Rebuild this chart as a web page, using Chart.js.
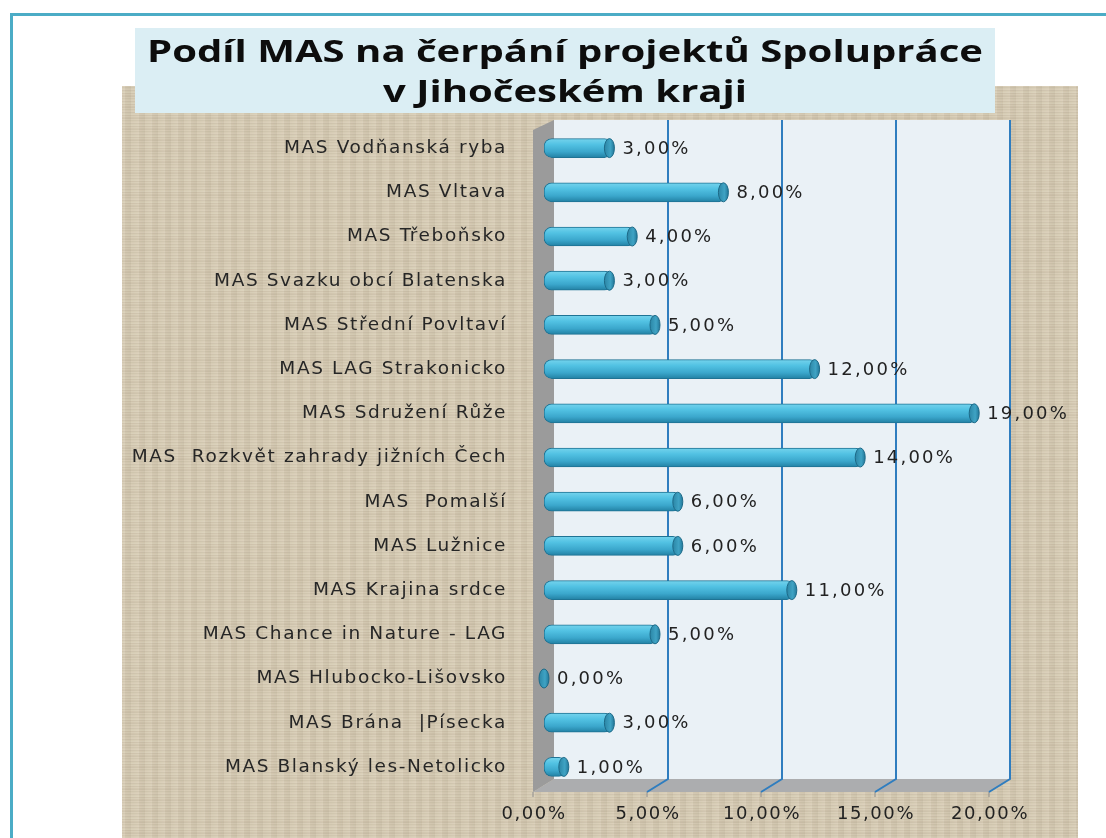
<!DOCTYPE html>
<html>
<head>
<meta charset="UTF-8">
<title>Podíl MAS na čerpání projektů Spolupráce</title>
<script src="https://cdn.jsdelivr.net/npm/chart.js"></script>
<style>
  html, body { margin: 0; padding: 0; background: #fff; }
  #wrap { width: 1106px; height: 838px; }
</style>
</head>
<body>
<div id="wrap"><canvas id="barChart" width="1106" height="838"></canvas></div>
<script>
// data
const titleLines = ['Podíl MAS na čerpání projektů Spolupráce', 'v Jihočeském kraji'];
const categories = [
  'MAS Vodňanská ryba',
  'MAS Vltava',
  'MAS Třeboňsko',
  'MAS Svazku obcí Blatenska',
  'MAS Střední Povltaví',
  'MAS LAG Strakonicko',
  'MAS Sdružení Růže',
  'MAS  Rozkvět zahrady jižních Čech',
  'MAS  Pomalší',
  'MAS Lužnice',
  'MAS Krajina srdce',
  'MAS Chance in Nature - LAG',
  'MAS Hlubocko-Lišovsko',
  'MAS Brána  |Písecka',
  'MAS Blanský les-Netolicko'
];
const shares = [3, 8, 4, 3, 5, 12, 19, 14, 6, 6, 11, 5, 0, 3, 1];   // v %
const axisMin = 0;
const axisMax = 20;
const axisStep = 5;

function fmtPct(v) {
  return Number(v).toFixed(2).replace('.', ',') + '%';
}

// pytlovina na pozadi
function makeBurlap() {
  const c = document.createElement('canvas');
  c.width = 66; c.height = 66;
  const g = c.getContext('2d');
  g.fillStyle = '#d6cbb4';
  g.fillRect(0, 0, 66, 66);
  for (let i = 0; i < 66; i++) {
    const a = ((i * 37) % 11) / 11;
    g.fillStyle = a > 0.5 ? 'rgba(110,95,70,' + (a * 0.09) + ')' : 'rgba(250,246,232,' + (a * 0.25) + ')';
    g.fillRect(0, i, 66, 1);
    const b = ((i * 53) % 13) / 13;
    g.fillStyle = b > 0.5 ? 'rgba(110,95,70,' + (b * 0.08) + ')' : 'rgba(250,246,232,' + (b * 0.2) + ')';
    g.fillRect(i, 0, 1, 66);
  }
  return c;
}

// obrazek je v originale roztazeny do sirky
function stretchedText(ctx, text, x, y, sx) {
  ctx.save();
  ctx.translate(x, y);
  ctx.scale(sx, 1);
  ctx.fillText(text, 0, 0);
  ctx.restore();
}

const FRONT = 11;   // posun predni hrany 3D
const BACK = 10;    // posun zadni steny
const BACK_Y = 10;

const backdrop = {
  id: 'backdrop',
  beforeDraw(chart) {
    const ctx = chart.ctx;
    const ca = chart.chartArea;
    const xs = chart.scales.x;
    ctx.save();
    ctx.fillStyle = '#ffffff';
    ctx.fillRect(0, 0, chart.width, chart.height);

    // ramecek
    ctx.fillStyle = '#4bacc6';
    ctx.fillRect(10, 13, chart.width - 10, 3);
    ctx.fillRect(10, 13, 3, chart.height - 13);

    // bezovy panel
    ctx.fillStyle = ctx.createPattern(makeBurlap(), 'repeat');
    ctx.fillRect(122, 86, 956, chart.height - 86);

    // titulek
    ctx.fillStyle = '#dbeef4';
    ctx.fillRect(135, 28, 860, 85);
    ctx.fillStyle = '#0d0d0d';
    ctx.font = 'bold 31px "Open Sans"';
    ctx.textAlign = 'center';
    ctx.textBaseline = 'alphabetic';
    const sx = 836 / ctx.measureText(titleLines[0]).width;
    stretchedText(ctx, titleLines[0], 565, 62, sx);
    stretchedText(ctx, titleLines[1], 565, 102, sx);

    const x0 = xs.getPixelForValue(axisMin);
    const x1 = xs.getPixelForValue(axisMax);
    const fy = ca.bottom + 3;          // predni hrana podlahy
    const by = ca.bottom - BACK_Y;     // zadni hrana podlahy
    const ty = ca.top - 6;             // horni hrana zadni steny

    // zadni stena
    ctx.fillStyle = '#eaf1f6';
    ctx.fillRect(x0 + BACK, ty, x1 - x0, by - ty);

    // leva stena
    ctx.fillStyle = '#9b9b9b';
    ctx.beginPath();
    ctx.moveTo(x0 - FRONT, ty + 10);
    ctx.lineTo(x0 + BACK, ty);
    ctx.lineTo(x0 + BACK, by);
    ctx.lineTo(x0 - FRONT, fy);
    ctx.closePath();
    ctx.fill();

    // podlaha
    ctx.fillStyle = '#acadaf';
    ctx.beginPath();
    ctx.moveTo(x0 - FRONT, fy);
    ctx.lineTo(x0 + BACK, by);
    ctx.lineTo(x1 + BACK, by);
    ctx.lineTo(x1 - FRONT, fy);
    ctx.closePath();
    ctx.fill();

    // mrizka a znacky
    for (let v = axisMin; v <= axisMax; v += axisStep) {
      const px = xs.getPixelForValue(v);
      ctx.strokeStyle = '#8c8c8c';
      ctx.lineWidth = 1;
      ctx.beginPath();
      ctx.moveTo(px - FRONT, fy);
      ctx.lineTo(px - FRONT, fy + 5);
      ctx.stroke();
      if (v === axisMin) continue;
      ctx.strokeStyle = '#2f7dbf';
      ctx.lineWidth = 2;
      ctx.beginPath();
      ctx.moveTo(px - FRONT, fy);
      ctx.lineTo(px + BACK, by);
      ctx.lineTo(px + BACK, ty);
      ctx.stroke();
    }
    ctx.restore();

    // roztazene pismo pro popisky os
    ctx.letterSpacing = '1.6px';
  },
  beforeDatasetsDraw(chart) {
    chart.ctx.letterSpacing = '0px';
  },
  afterDatasetsDraw(chart) {
    const ctx = chart.ctx;
    const meta = chart.getDatasetMeta(0);
    ctx.save();
    meta.data.forEach(function(bar, i) {
      const h = bar.height;
      const rx = 5;
      const cx = Math.max(bar.x - rx + 2, bar.base);
      // cepicka na konci valce
      const grd = ctx.createLinearGradient(cx - rx, 0, cx + rx, 0);
      grd.addColorStop(0, '#2b86a6');
      grd.addColorStop(0.6, '#3fa3c4');
      grd.addColorStop(1, '#23789a');
      ctx.fillStyle = grd;
      ctx.strokeStyle = '#1d6a88';
      ctx.lineWidth = 1;
      ctx.beginPath();
      ctx.ellipse(cx, bar.y, rx, h / 2, 0, 0, Math.PI * 2);
      ctx.fill();
      ctx.stroke();

      // hodnota
      ctx.letterSpacing = '2.2px';
      ctx.fillStyle = '#222';
      ctx.font = '18px "DejaVu Sans"';
      ctx.textAlign = 'left';
      ctx.textBaseline = 'middle';
      ctx.fillText(fmtPct(shares[i]), cx + rx + 8, bar.y + 1);
    });
    ctx.letterSpacing = '0px';
    ctx.restore();
  }
};

function barFill(context) {
  const chart = context.chart;
  const ys = chart.scales.y;
  if (!chart.chartArea || !ys) return '#45b4d8';
  const y = ys.getPixelForValue(context.dataIndex);
  const g = chart.ctx.createLinearGradient(0, y - 9, 0, y + 9);
  g.addColorStop(0, '#72d2ec');
  g.addColorStop(0.3, '#52c2e3');
  g.addColorStop(0.7, '#3ba7cc');
  g.addColorStop(1, '#2484a7');
  return g;
}

const ctx = document.getElementById('barChart').getContext('2d');
new Chart(ctx, {
  type: 'bar',
  data: {
    labels: categories,
    datasets: [{
      label: 'Podíl',
      data: shares,
      backgroundColor: barFill,
      borderColor: '#1f7394',
      borderWidth: 1,
      borderRadius: 8,
      borderSkipped: false,
      barThickness: 19
    }]
  },
  options: {
    indexAxis: 'y',
    responsive: false,
    animation: false,
    layout: { padding: { top: 126, right: 106, bottom: 0, left: 0 } },
    plugins: {
      legend: { display: false },
      tooltip: { enabled: false },
      title: { display: false }
    },
    scales: {
      x: {
        min: axisMin,
        max: axisMax,
        grid: { display: false, drawTicks: false },
        border: { display: false },
        ticks: {
          stepSize: axisStep,
          padding: 15,
          labelOffset: -FRONT + 1,
          color: '#222',
          font: { family: 'DejaVu Sans', size: 18 },
          callback: function(v) { return fmtPct(v); }
        },
        afterFit: function(scale) { scale.height = 49; }
      },
      y: {
        grid: { display: false, drawTicks: false },
        border: { display: false },
        ticks: {
          padding: 37,
          color: '#262626',
          font: { family: 'DejaVu Sans', size: 18.5 }
        },
        afterFit: function(scale) { scale.width = 544; }
      }
    }
  },
  plugins: [backdrop]
});
</script>
</body>
</html>
